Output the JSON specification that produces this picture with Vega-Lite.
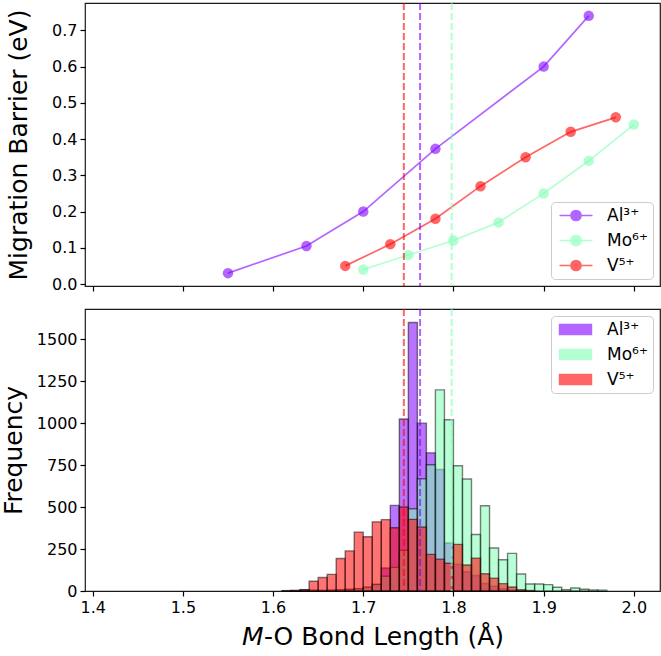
{
  "$schema": "https://vega.github.io/schema/vega-lite/v6.json",
  "background": "white",
  "padding": {"left": 0, "top": 1, "right": 2, "bottom": 2},
  "spacing": 14,
  "config": {
    "font": "DejaVu Sans",
    "view": {"stroke": "#1a1a1a", "strokeWidth": 1.2},
    "axis": {
      "grid": false,
      "domain": false,
      "tickColor": "#000000",
      "tickSize": 5,
      "tickWidth": 1.2,
      "labelFont": "DejaVu Sans",
      "labelFontSize": 16,
      "labelColor": "#000000",
      "labelPadding": 3,
      "titleFont": "DejaVu Sans",
      "titleFontSize": 25,
      "titleFontWeight": "normal",
      "titleColor": "#000000"
    },
    "legend": {
      "labelFont": "DejaVu Sans",
      "labelFontSize": 17,
      "labelColor": "#000000",
      "fillColor": "white",
      "strokeColor": "#cccccc",
      "cornerRadius": 4,
      "padding": 5,
      "rowPadding": 7,
      "symbolSize": 100,
      "title": null
    }
  },
  "resolve": {"scale": {"color": "independent"}, "legend": {"color": "independent"}},
  "datasets": {
    "barrier": [
      {"ion": "Al³⁺", "r": 1.55, "eb": 0.03},
      {"ion": "Al³⁺", "r": 1.637, "eb": 0.105},
      {"ion": "Al³⁺", "r": 1.70, "eb": 0.20},
      {"ion": "Al³⁺", "r": 1.78, "eb": 0.373},
      {"ion": "Al³⁺", "r": 1.90, "eb": 0.60},
      {"ion": "Al³⁺", "r": 1.95, "eb": 0.74},
      {"ion": "Mo⁶⁺", "r": 1.70, "eb": 0.04},
      {"ion": "Mo⁶⁺", "r": 1.75, "eb": 0.08},
      {"ion": "Mo⁶⁺", "r": 1.80, "eb": 0.12},
      {"ion": "Mo⁶⁺", "r": 1.85, "eb": 0.17},
      {"ion": "Mo⁶⁺", "r": 1.90, "eb": 0.25},
      {"ion": "Mo⁶⁺", "r": 1.95, "eb": 0.34},
      {"ion": "Mo⁶⁺", "r": 2.00, "eb": 0.44},
      {"ion": "V⁵⁺", "r": 1.68, "eb": 0.05},
      {"ion": "V⁵⁺", "r": 1.73, "eb": 0.11},
      {"ion": "V⁵⁺", "r": 1.78, "eb": 0.18},
      {"ion": "V⁵⁺", "r": 1.83, "eb": 0.27},
      {"ion": "V⁵⁺", "r": 1.88, "eb": 0.35},
      {"ion": "V⁵⁺", "r": 1.93, "eb": 0.42},
      {"ion": "V⁵⁺", "r": 1.98, "eb": 0.46}
    ],
    "means": [
      {"ion": "Al³⁺", "r": 1.763},
      {"ion": "Mo⁶⁺", "r": 1.798},
      {"ion": "V⁵⁺", "r": 1.745}
    ],
    "hist": [
      {"ion": "Al³⁺", "lo": 1.62, "hi": 1.63, "n": 2},
      {"ion": "Al³⁺", "lo": 1.63, "hi": 1.64, "n": 8},
      {"ion": "Al³⁺", "lo": 1.64, "hi": 1.65, "n": 3},
      {"ion": "Al³⁺", "lo": 1.65, "hi": 1.66, "n": 2},
      {"ion": "Al³⁺", "lo": 1.66, "hi": 1.67, "n": 3},
      {"ion": "Al³⁺", "lo": 1.67, "hi": 1.68, "n": 5},
      {"ion": "Al³⁺", "lo": 1.68, "hi": 1.69, "n": 8},
      {"ion": "Al³⁺", "lo": 1.69, "hi": 1.70, "n": 12},
      {"ion": "Al³⁺", "lo": 1.70, "hi": 1.71, "n": 20},
      {"ion": "Al³⁺", "lo": 1.71, "hi": 1.72, "n": 38},
      {"ion": "Al³⁺", "lo": 1.72, "hi": 1.73, "n": 137},
      {"ion": "Al³⁺", "lo": 1.73, "hi": 1.74, "n": 510},
      {"ion": "Al³⁺", "lo": 1.74, "hi": 1.75, "n": 1025},
      {"ion": "Al³⁺", "lo": 1.75, "hi": 1.76, "n": 1600},
      {"ion": "Al³⁺", "lo": 1.76, "hi": 1.77, "n": 1000},
      {"ion": "Al³⁺", "lo": 1.77, "hi": 1.78, "n": 823},
      {"ion": "Al³⁺", "lo": 1.78, "hi": 1.79, "n": 724},
      {"ion": "Al³⁺", "lo": 1.79, "hi": 1.80, "n": 286},
      {"ion": "Al³⁺", "lo": 1.80, "hi": 1.81, "n": 160},
      {"ion": "Al³⁺", "lo": 1.81, "hi": 1.82, "n": 115},
      {"ion": "Al³⁺", "lo": 1.82, "hi": 1.83, "n": 92},
      {"ion": "Al³⁺", "lo": 1.83, "hi": 1.84, "n": 45},
      {"ion": "Al³⁺", "lo": 1.84, "hi": 1.85, "n": 28},
      {"ion": "Al³⁺", "lo": 1.85, "hi": 1.86, "n": 14},
      {"ion": "Al³⁺", "lo": 1.86, "hi": 1.87, "n": 6},
      {"ion": "Al³⁺", "lo": 1.87, "hi": 1.88, "n": 3},
      {"ion": "Mo⁶⁺", "lo": 1.61, "hi": 1.62, "n": 2},
      {"ion": "Mo⁶⁺", "lo": 1.62, "hi": 1.63, "n": 3},
      {"ion": "Mo⁶⁺", "lo": 1.63, "hi": 1.64, "n": 4},
      {"ion": "Mo⁶⁺", "lo": 1.64, "hi": 1.65, "n": 5},
      {"ion": "Mo⁶⁺", "lo": 1.65, "hi": 1.66, "n": 4},
      {"ion": "Mo⁶⁺", "lo": 1.66, "hi": 1.67, "n": 6},
      {"ion": "Mo⁶⁺", "lo": 1.67, "hi": 1.68, "n": 8},
      {"ion": "Mo⁶⁺", "lo": 1.68, "hi": 1.69, "n": 10},
      {"ion": "Mo⁶⁺", "lo": 1.69, "hi": 1.70, "n": 14},
      {"ion": "Mo⁶⁺", "lo": 1.70, "hi": 1.71, "n": 24},
      {"ion": "Mo⁶⁺", "lo": 1.71, "hi": 1.72, "n": 40},
      {"ion": "Mo⁶⁺", "lo": 1.72, "hi": 1.73, "n": 88},
      {"ion": "Mo⁶⁺", "lo": 1.73, "hi": 1.74, "n": 141},
      {"ion": "Mo⁶⁺", "lo": 1.74, "hi": 1.75, "n": 242},
      {"ion": "Mo⁶⁺", "lo": 1.75, "hi": 1.76, "n": 490},
      {"ion": "Mo⁶⁺", "lo": 1.76, "hi": 1.77, "n": 669},
      {"ion": "Mo⁶⁺", "lo": 1.77, "hi": 1.78, "n": 752},
      {"ion": "Mo⁶⁺", "lo": 1.78, "hi": 1.79, "n": 1198},
      {"ion": "Mo⁶⁺", "lo": 1.79, "hi": 1.80, "n": 1020},
      {"ion": "Mo⁶⁺", "lo": 1.80, "hi": 1.81, "n": 746},
      {"ion": "Mo⁶⁺", "lo": 1.81, "hi": 1.82, "n": 667},
      {"ion": "Mo⁶⁺", "lo": 1.82, "hi": 1.83, "n": 337},
      {"ion": "Mo⁶⁺", "lo": 1.83, "hi": 1.84, "n": 508},
      {"ion": "Mo⁶⁺", "lo": 1.84, "hi": 1.85, "n": 256},
      {"ion": "Mo⁶⁺", "lo": 1.85, "hi": 1.86, "n": 186},
      {"ion": "Mo⁶⁺", "lo": 1.86, "hi": 1.87, "n": 224},
      {"ion": "Mo⁶⁺", "lo": 1.87, "hi": 1.88, "n": 101},
      {"ion": "Mo⁶⁺", "lo": 1.88, "hi": 1.89, "n": 42},
      {"ion": "Mo⁶⁺", "lo": 1.89, "hi": 1.90, "n": 42},
      {"ion": "Mo⁶⁺", "lo": 1.90, "hi": 1.91, "n": 38},
      {"ion": "Mo⁶⁺", "lo": 1.91, "hi": 1.92, "n": 22},
      {"ion": "Mo⁶⁺", "lo": 1.92, "hi": 1.93, "n": 8},
      {"ion": "Mo⁶⁺", "lo": 1.93, "hi": 1.94, "n": 18},
      {"ion": "Mo⁶⁺", "lo": 1.94, "hi": 1.95, "n": 10},
      {"ion": "Mo⁶⁺", "lo": 1.95, "hi": 1.96, "n": 6},
      {"ion": "Mo⁶⁺", "lo": 1.96, "hi": 1.97, "n": 5},
      {"ion": "V⁵⁺", "lo": 1.61, "hi": 1.62, "n": 2},
      {"ion": "V⁵⁺", "lo": 1.62, "hi": 1.63, "n": 3},
      {"ion": "V⁵⁺", "lo": 1.63, "hi": 1.64, "n": 6},
      {"ion": "V⁵⁺", "lo": 1.64, "hi": 1.65, "n": 58},
      {"ion": "V⁵⁺", "lo": 1.65, "hi": 1.66, "n": 80},
      {"ion": "V⁵⁺", "lo": 1.66, "hi": 1.67, "n": 99},
      {"ion": "V⁵⁺", "lo": 1.67, "hi": 1.68, "n": 194},
      {"ion": "V⁵⁺", "lo": 1.68, "hi": 1.69, "n": 239},
      {"ion": "V⁵⁺", "lo": 1.69, "hi": 1.70, "n": 351},
      {"ion": "V⁵⁺", "lo": 1.70, "hi": 1.71, "n": 323},
      {"ion": "V⁵⁺", "lo": 1.71, "hi": 1.72, "n": 412},
      {"ion": "V⁵⁺", "lo": 1.72, "hi": 1.73, "n": 425},
      {"ion": "V⁵⁺", "lo": 1.73, "hi": 1.74, "n": 377},
      {"ion": "V⁵⁺", "lo": 1.74, "hi": 1.75, "n": 500},
      {"ion": "V⁵⁺", "lo": 1.75, "hi": 1.76, "n": 427},
      {"ion": "V⁵⁺", "lo": 1.76, "hi": 1.77, "n": 381},
      {"ion": "V⁵⁺", "lo": 1.77, "hi": 1.78, "n": 218},
      {"ion": "V⁵⁺", "lo": 1.78, "hi": 1.79, "n": 190},
      {"ion": "V⁵⁺", "lo": 1.79, "hi": 1.80, "n": 165},
      {"ion": "V⁵⁺", "lo": 1.80, "hi": 1.81, "n": 278},
      {"ion": "V⁵⁺", "lo": 1.81, "hi": 1.82, "n": 155},
      {"ion": "V⁵⁺", "lo": 1.82, "hi": 1.83, "n": 196},
      {"ion": "V⁵⁺", "lo": 1.83, "hi": 1.84, "n": 103},
      {"ion": "V⁵⁺", "lo": 1.84, "hi": 1.85, "n": 77},
      {"ion": "V⁵⁺", "lo": 1.85, "hi": 1.86, "n": 44},
      {"ion": "V⁵⁺", "lo": 1.86, "hi": 1.87, "n": 24},
      {"ion": "V⁵⁺", "lo": 1.87, "hi": 1.88, "n": 8},
      {"ion": "V⁵⁺", "lo": 1.88, "hi": 1.89, "n": 3}
    ]
  },
  "vconcat": [
    {
      "width": 575,
      "height": 283,
      "layer": [
        {
          "data": {"name": "barrier"},
          "mark": {"type": "line", "strokeWidth": 1.7, "opacity": 0.6},
          "encoding": {
            "x": {"field": "r", "type": "quantitative",
                  "scale": {"domain": [1.3915, 2.029], "nice": false, "zero": false},
                  "axis": {"values": [1.4, 1.5, 1.6, 1.7, 1.8, 1.9, 2.0], "labels": false, "title": null}},
            "y": {"field": "eb", "type": "quantitative",
                  "scale": {"domain": [-0.0055, 0.7755], "nice": false, "zero": false},
                  "axis": {"values": [0, 0.1, 0.2, 0.3, 0.4, 0.5, 0.6, 0.7], "format": ".1f", "title": "Migration Barrier (eV)", "titlePadding": 20}},
            "color": {"field": "ion", "type": "nominal",
                      "scale": {"domain": ["Al³⁺", "Mo⁶⁺", "V⁵⁺"], "range": ["#8000ff", "#80ffb4", "#ff0000"]},
                      "legend": {"orient": "bottom-right", "offset": 7,
                                 "symbolType": "M-1,0H5.6M1.3,0A1,1,0,1,1,3.3,0A1,1,0,1,1,1.3,0Z",
                                 "symbolStrokeWidth": 1.7, "symbolOpacity": 0.6, "labelOffset": 34}}
          }
        },
        {
          "data": {"name": "barrier"},
          "mark": {"type": "point", "filled": true, "size": 110, "opacity": 0.6},
          "encoding": {
            "x": {"field": "r", "type": "quantitative"},
            "y": {"field": "eb", "type": "quantitative"},
            "color": {"field": "ion", "type": "nominal"}
          }
        },
        {
          "data": {"name": "means"},
          "mark": {"type": "rule", "strokeDash": [7, 3], "strokeWidth": 2, "opacity": 0.6},
          "encoding": {
            "x": {"field": "r", "type": "quantitative"},
            "color": {"field": "ion", "type": "nominal"}
          }
        }
      ]
    },
    {
      "width": 575,
      "height": 282,
      "layer": [
        {
          "data": {"name": "hist"},
          "mark": {"type": "bar", "fillOpacity": 0.55, "stroke": "#000000", "strokeOpacity": 0.5, "strokeWidth": 1.4},
          "encoding": {
            "x": {"field": "lo", "type": "quantitative",
                  "scale": {"domain": [1.3915, 2.029], "nice": false, "zero": false},
                  "axis": {"values": [1.4, 1.5, 1.6, 1.7, 1.8, 1.9, 2.0], "format": ".1f", "title": "𝘔-O Bond Length (Å)", "titlePadding": 9}},
            "x2": {"field": "hi"},
            "y": {"field": "n", "type": "quantitative", "stack": null,
                  "scale": {"domain": [0, 1680], "nice": false},
                  "axis": {"values": [0, 250, 500, 750, 1000, 1250, 1500], "format": "d", "title": "Frequency", "titlePadding": 10}},
            "y2": {"datum": 0},
            "color": {"field": "ion", "type": "nominal",
                      "scale": {"domain": ["Al³⁺", "Mo⁶⁺", "V⁵⁺"], "range": ["#8000ff", "#80ffb4", "#ff0000"]},
                      "legend": {"orient": "top-right", "offset": 7,
                                 "symbolType": "M-1,-1H5.4V1H-1Z",
                                 "symbolStrokeColor": "#000000", "symbolStrokeWidth": 1.4, "symbolOpacity": 0.55, "labelOffset": 34}}
          }
        },
        {
          "data": {"name": "means"},
          "mark": {"type": "rule", "strokeDash": [7, 3], "strokeWidth": 2, "opacity": 0.6},
          "encoding": {
            "x": {"field": "r", "type": "quantitative"},
            "color": {"field": "ion", "type": "nominal"}
          }
        }
      ]
    }
  ]
}
